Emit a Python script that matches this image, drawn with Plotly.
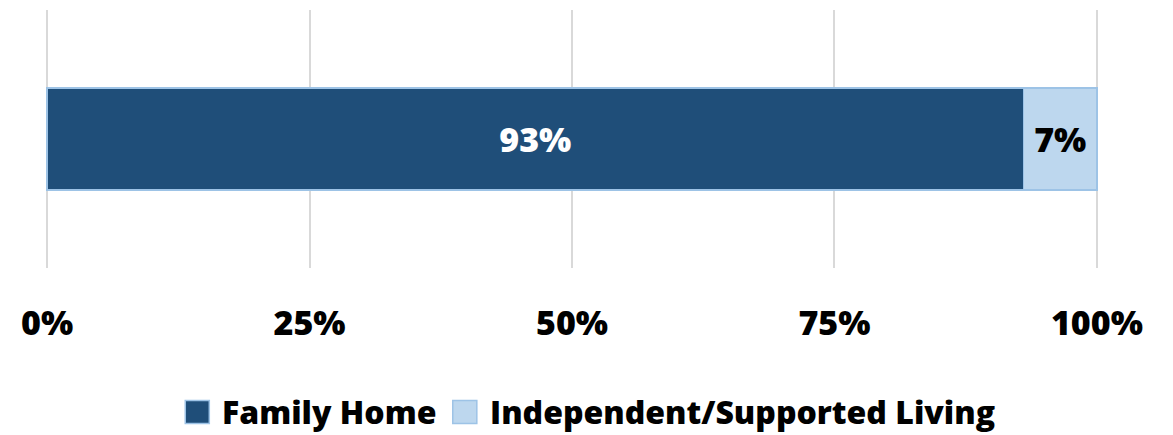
import plotly.graph_objects as go

# Share of people by living arrangement
series_names = ["Family Home", "Independent/Supported Living"]
series_values = [93, 7]
series_colors = ["#1F4E79", "#BDD7EE"]
label_colors = ["#FFFFFF", "#000000"]
tick_values = [0, 25, 50, 75, 100]
tick_labels = ["0%", "25%", "50%", "75%", "100%"]

FONT = "'Open Sans', Lato, sans-serif"
EDGE = "#9DC3E6"
WEIGHT = 800

fig = go.Figure()
for name, val, col, lcol in zip(series_names, series_values, series_colors, label_colors):
    fig.add_trace(go.Bar(
        name=name,
        y=[""],
        x=[val],
        orientation="h",
        width=0.395,
        marker=dict(color=col, line=dict(color=EDGE, width=1.5)),
        text=[f"{val}%"],
        textposition="inside",
        insidetextanchor="middle",
        textangle=0,
        textfont=dict(family=FONT, size=34, color=lcol, weight=WEIGHT),
        showlegend=False,
        hoverinfo="x+name",
    ))

# pad the range a touch so the 0% and 100% grid lines are drawn
fig.update_layout(
    barmode="stack",
    width=1173,
    height=435,
    margin=dict(l=46, r=75, t=10, b=167),
    paper_bgcolor="white",
    plot_bgcolor="white",
    xaxis=dict(
        range=[-0.1, 100.1],
        tickvals=tick_values,
        ticktext=tick_labels,
        tickfont=dict(family=FONT, size=34, color="#000000", weight=WEIGHT),
        showgrid=True,
        gridcolor="#D9D9D9",
        gridwidth=1.5,
        zeroline=False,
        showline=False,
        ticks="",
        ticklabelstandoff=32,
        fixedrange=True,
    ),
    yaxis=dict(
        range=[-0.5, 0.5],
        showticklabels=False,
        showgrid=False,
        zeroline=False,
        showline=False,
        fixedrange=True,
    ),
    font=dict(family=FONT),
)

# Legend drawn as coloured squares with bold labels below the axis
legend_y = -0.558
sq_half_h = 11.5 / 258
legend_left_px = [186, 453]
for name, col, lx in zip(series_names, series_colors, legend_left_px):
    x0 = (lx - 47) / 1050
    x1 = (lx + 24 - 47) / 1050
    fig.add_shape(
        type="rect", xref="paper", yref="paper",
        x0=x0, x1=x1, y0=legend_y - sq_half_h, y1=legend_y + sq_half_h,
        fillcolor=col, line=dict(color=EDGE, width=1.5),
    )
    fig.add_annotation(
        xref="paper", yref="paper",
        x=(lx + 35 - 47) / 1050, y=legend_y,
        xanchor="left", yanchor="middle",
        text=name,
        showarrow=False,
        font=dict(family=FONT, size=32, color="#000000", weight=WEIGHT),
    )

fig.write_html("out.html")
